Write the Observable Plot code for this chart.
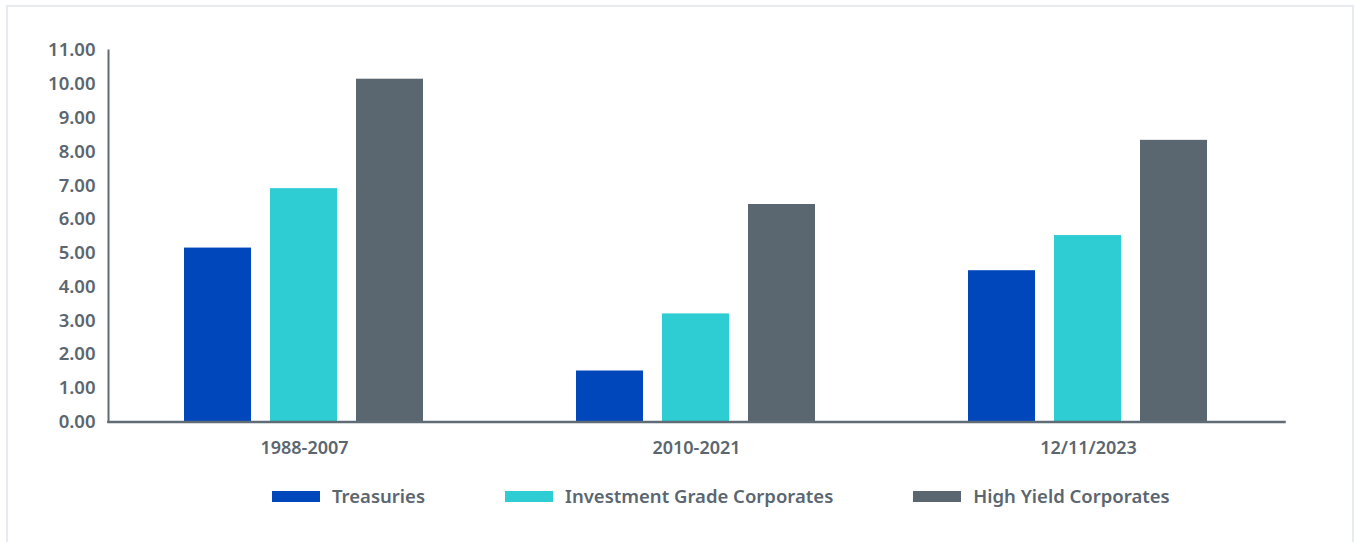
<!DOCTYPE html>
<html>
<head>
<meta charset="utf-8">
<script src="https://cdn.jsdelivr.net/npm/d3@7"></script>
<script src="https://cdn.jsdelivr.net/npm/@observablehq/plot@0.6"></script>
<style>
  html, body { margin: 0; padding: 0; background: #fff; }
  #frame {
    position: absolute; left: 6px; top: 5px; width: 1348px; height: 580px;
    box-sizing: border-box; border: 2px solid #e7ebef; background: #fff;
  }
  #chart svg { display: block; }
  #legend {
    display: flex; align-items: center; margin-top: 19px; padding-left: 264px; line-height: 20px;
    font-family: "Noto Sans", sans-serif; font-weight: 600; font-size: 18.5px; color: #5b6670;
  }
  .item { display: flex; align-items: center; margin-right: 80px; }
  .sw { width: 48px; height: 11px; margin-right: 12px; }
</style>
</head>
<body>
<div id="frame">
  <div id="chart"></div>
  <div id="legend"></div>
</div>
<script>
const groups = ["1988-2007", "2010-2021", "12/11/2023"];
const series = ["Treasuries", "Investment Grade Corporates", "High Yield Corporates"];
const colors = ["#0047bb", "#2eccd3", "#5b6770"];
const treasuries = [5.15, 1.51, 4.48];
const investmentGrade = [6.91, 3.20, 5.52];
const highYield = [10.15, 6.44, 8.34];
const yTicks = [0, 1, 2, 3, 4, 5, 6, 7, 8, 9, 10, 11];

const valuesBySeries = [treasuries, investmentGrade, highYield];
const data = [];
groups.forEach((g, gi) => {
  series.forEach((s, si) => data.push({group: g, series: s, value: valuesBySeries[si][gi]}));
});

const textColor = "#5b6670";
const axisColor = "#5f6b75";

const chart = Plot.plot({
  width: 1344,
  height: 460,
  marginLeft: 99,
  marginRight: 67,
  marginTop: 43,
  marginBottom: 45.5,
  style: {fontFamily: "Noto Sans, sans-serif", fontSize: "18px", fontWeight: 600, color: textColor, background: "#fff"},
  fx: {domain: groups, padding: 0, label: null},
  x: {domain: series, paddingInner: 0.218, paddingOuter: 0.862, axis: null},
  y: {domain: [0, 11], label: null},
  color: {domain: series, range: colors},
  marks: [
    Plot.barY(data, {fx: "group", x: "series", y: "value", fill: "series"}),
    Plot.axisY(yTicks, {tickSize: 0, tickPadding: 13, tickFormat: d => d.toFixed(2), fill: textColor, fontSize: 18.5, label: null}),
    Plot.axisFx({anchor: "bottom", tickSize: 0, tickPadding: 19, fill: textColor, fontSize: 18, label: null}),
    Plot.frame({anchor: "left", facet: "super", stroke: axisColor, strokeWidth: 2}),
    Plot.frame({anchor: "bottom", facet: "super", stroke: axisColor, strokeWidth: 2.5})
  ]
});
document.getElementById("chart").appendChild(chart);

const legend = document.getElementById("legend");
series.forEach((s, i) => {
  const item = document.createElement("div");
  item.className = "item";
  const sw = document.createElement("div");
  sw.className = "sw";
  sw.style.background = colors[i];
  const label = document.createElement("span");
  label.textContent = s;
  item.appendChild(sw);
  item.appendChild(label);
  legend.appendChild(item);
});
</script>
</body>
</html>
